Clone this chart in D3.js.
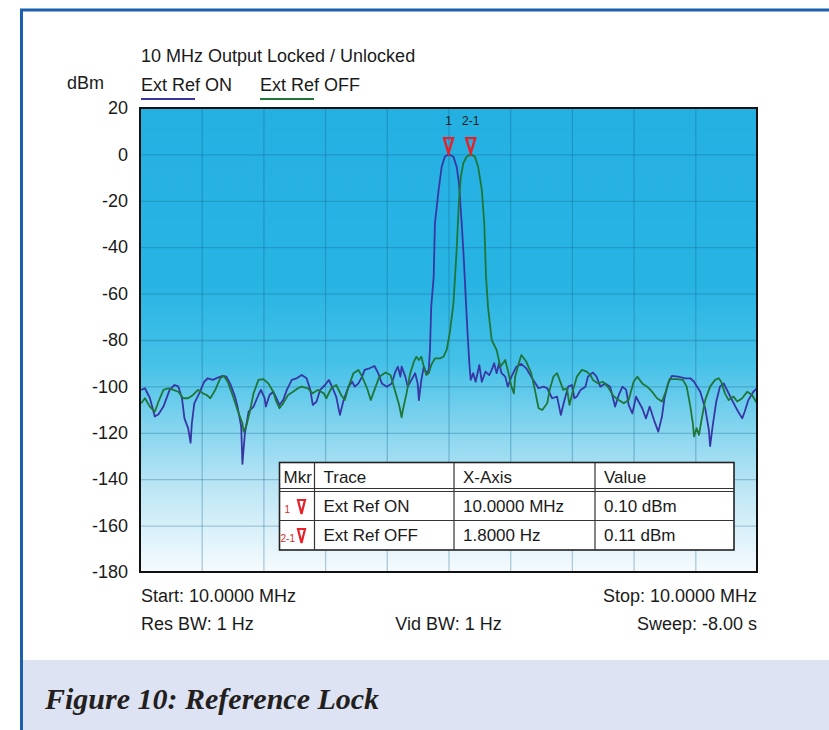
<!DOCTYPE html>
<html>
<head>
<meta charset="utf-8">
<script src="https://cdn.jsdelivr.net/npm/d3@7"></script>
<style>
  body { margin: 0; background: #fff; }
  svg text { font-family: "Liberation Sans", Arial, sans-serif; fill: #1a1a1a; }
</style>
</head>
<body>
<div id="chart"></div>
<script>
// level ticks (dBm)
const yTicks = [20, 0, -20, -40, -60, -80, -100, -120, -140, -160, -180];

// Ext Ref ON trace: offset from 10 MHz (Hz) and level (dBm)
const onHz = [-24.9,-24.6,-24.2,-23.8,-23.5,-23.1,-22.6,-22.2,-21.9,-21.6,
  -21.4,-21.1,-20.9,-20.8,-20.6,-20.2,-19.8,-19.5,-19.1,-18.7,
  -18.3,-18.0,-17.7,-17.3,-17.1,-16.8,-16.7,-16.5,-16.2,-15.8,
  -15.4,-15.2,-14.9,-14.8,-14.5,-14.2,-14.0,-13.7,-13.4,-13.1,
  -12.7,-12.3,-11.9,-11.5,-11.2,-11.0,-10.7,-10.4,-10.0,-9.7,
  -9.5,-9.1,-8.8,-8.5,-8.1,-7.8,-7.6,-7.3,-7.0,-6.8,
  -6.4,-6.0,-5.7,-5.4,-5.0,-4.6,-4.3,-4.1,-3.9,-3.8,
  -3.5,-3.3,-3.0,-2.7,-2.5,-2.4,-2.2,-2.0,-1.8,-1.6,
  -1.5,-1.4,-1.2,-1.1,-0.8,-0.55,-0.3,0,0.4,0.66,
  0.85,1.07,1.26,1.42,1.56,1.69,1.8,2.0,2.2,2.5,
  2.7,3.0,3.3,3.5,3.7,3.9,4.1,4.3,4.6,4.8,
  5.1,5.5,5.9,6.3,6.7,7.3,7.7,8.0,8.4,8.8,
  9.1,9.4,9.7,10.0,10.2,10.4,10.7,11.1,11.3,11.7,
  12.0,12.3,12.7,13.1,13.5,13.8,14.1,14.4,14.6,14.9,
  15.2,15.4,15.7,16.0,16.3,16.7,17.0,17.3,17.5,17.8,
  18.1,18.6,19.2,19.6,19.9,20.4,20.8,21.1,21.2,21.4,
  21.7,22.0,22.3,22.5,22.9,23.4,23.8,24.0,24.3,24.7,
  25.0];
const onDbm = [-101.5,-100.8,-105,-113,-112,-108.7,-101.5,-99.4,-100,-105,
  -113.8,-118,-124.3,-116,-107.3,-103,-98,-96.5,-97.2,-96.2,
  -95.5,-95.8,-98.7,-104.4,-108.7,-117.3,-133.4,-120.2,-110.9,-108.7,
  -103.7,-101.5,-105.1,-108.7,-103.7,-102.3,-104.4,-108,-105.9,-101.5,
  -97.2,-96.5,-95.1,-96.5,-101.5,-108,-106.6,-101.5,-99.4,-97.2,
  -99.4,-104.4,-112.3,-105.9,-100.1,-98,-100.1,-98.7,-95.8,-92.9,
  -92.2,-91.2,-94.3,-98.7,-100.1,-98.7,-93.6,-91.5,-95.8,-91.5,
  -95.8,-100.1,-97.2,-94.3,-98.7,-105.9,-97.2,-91.5,-94.3,-93,
  -84,-65.6,-52.7,-29.7,-15.3,-5.3,-1,0.1,-1,-5.3,
  -12.5,-29.7,-47,-64.2,-78.5,-90,-97.2,-94.3,-98,-90.8,
  -98,-93.6,-95.1,-92.9,-90,-94.3,-90,-94.3,-95.8,-100.1,
  -95.8,-91.5,-90.3,-92.2,-95.8,-100.8,-100.1,-100.8,-105.1,-104.4,
  -112.3,-105.9,-100.1,-99.4,-105.1,-104.4,-101.5,-100.1,-95.8,-94,
  -95.8,-100.1,-98.7,-100.1,-108.7,-103.7,-100.1,-101.5,-108,-111.6,
  -104.4,-106.5,-109.4,-113.8,-108.7,-115.2,-119.5,-113,-105.1,-98.7,
  -95.5,-95.8,-96.5,-96.5,-98,-102.3,-109.4,-118.8,-125.7,-117.3,
  -106.5,-100.1,-98.7,-100.8,-105.1,-110.2,-113.8,-110.9,-105.9,-102.3,
  -100.8];

// Ext Ref OFF trace
const offHz = [-24.9,-24.6,-24.2,-23.8,-23.5,-23.1,-22.7,-22.3,-21.9,-21.5,
  -21.1,-20.7,-20.3,-19.9,-19.6,-19.3,-18.9,-18.5,-18.2,-17.9,
  -17.5,-17.1,-16.7,-16.6,-16.4,-16.1,-15.8,-15.4,-15.0,-14.6,
  -14.2,-14.0,-13.7,-13.4,-13.0,-12.6,-12.2,-11.9,-11.4,-11.0,
  -10.6,-10.1,-9.9,-9.5,-9.1,-8.7,-8.4,-8.1,-7.7,-7.3,
  -7.0,-6.6,-6.3,-6.0,-5.6,-5.1,-4.7,-4.5,-4.2,-4.0,
  -3.8,-3.7,-3.4,-3.1,-2.8,-2.6,-2.4,-2.2,-2.0,-1.8,
  -1.6,-1.4,-1.1,-0.7,-0.4,-0.15,0.1,0.4,0.66,0.85,
  1.0,1.2,1.47,1.8,2.15,2.4,2.7,2.9,3.04,3.2,
  3.5,3.9,4.2,4.6,4.8,5.1,5.3,5.4,5.7,5.9,
  6.3,6.7,7.0,7.3,7.6,8.0,8.2,8.5,8.8,9.0,
  9.3,9.6,9.8,10.1,10.4,10.8,11.2,11.5,11.7,12.1,
  12.5,12.9,13.4,13.8,14.2,14.6,15.0,15.3,15.7,16.1,
  16.5,16.9,17.3,17.6,17.9,18.5,19.0,19.3,19.6,19.8,
  19.9,20.1,20.3,20.5,20.8,21.2,21.6,21.9,22.1,22.4,
  22.7,23.1,23.4,23.8,24.2,24.6,25.0];
const offDbm = [-107.3,-105.1,-108.7,-110.9,-106.5,-101.5,-100.8,-101.5,-102.3,-105.1,
  -105.1,-103.7,-101.5,-103,-103.7,-105.1,-101.5,-96.5,-95.5,-98,
  -103.7,-110.2,-115.9,-119.5,-117.3,-110.9,-103,-97.2,-96.9,-98.7,
  -102.3,-105.9,-109.4,-107.3,-103.7,-102.3,-100.8,-100.1,-100.8,-103,
  -101.5,-103,-105.1,-100.8,-99.4,-103.7,-105.9,-100.1,-94.3,-92.9,
  -95.8,-100.8,-105.9,-101.5,-95.8,-94,-95.1,-98.7,-104.4,-108,
  -113.3,-110.2,-103,-94.3,-89.3,-87.2,-88.6,-87.2,-91.5,-95.1,
  -94.3,-90.8,-87.9,-87.9,-87.2,-84.3,-77,-64.2,-41.2,-19.7,
  -9.6,-3.8,-1,0.11,-1,-5.3,-15.3,-29.7,-52.7,-65.6,
  -80,-84.3,-91.5,-88.6,-92.9,-100.1,-103,-95.8,-90,-86.5,
  -89.3,-94.3,-101.5,-109.4,-110.2,-107.3,-101.5,-95.8,-94.3,-97.2,
  -101.5,-100.8,-108,-101.5,-95.8,-92.9,-93.6,-95.1,-97.2,-98.7,
  -98,-100.1,-104.4,-105.9,-107.3,-105.9,-98,-95.8,-98.7,-100.1,
  -102.3,-105.1,-106.5,-102.3,-96.9,-96.9,-97.2,-100.1,-108.7,-115.9,
  -121.6,-118,-120.9,-114.5,-105.9,-100.1,-97.2,-96.5,-98,-103,
  -105.9,-104.4,-106.5,-105.1,-102.3,-103.7,-107.3];

// markers and table
const markerLabels = ['1', '2-1'];
const markerHz = [0, 1.8];
const markerDbm = [0.10, 0.11];
const tableHeader = ['Mkr', 'Trace', 'X-Axis', 'Value'];
const traceNames = ['Ext Ref ON', 'Ext Ref OFF'];
const xAxisValues = ['10.0000 MHz', '1.8000 Hz'];
const valueTexts = ['0.10 dBm', '0.11 dBm'];

const W = 829, H = 730;
const plot = {left: 140, top: 108, right: 757, bottom: 572};
const blue = '#3836a4', green = '#1f7638', red = '#e8202a';

const svg = d3.select('#chart').append('svg')
  .attr('width', W).attr('height', H);

// page frame + caption band
svg.append('rect').attr('x', 22).attr('y', 660).attr('width', 820).attr('height', 80)
  .attr('fill', '#dde3f2');
svg.append('rect').attr('x', 21.5).attr('y', 10).attr('width', 900).attr('height', 800)
  .attr('fill', 'none').attr('stroke', '#1b5fae').attr('stroke-width', 3);
svg.append('text')
  .attr('x', 45).attr('y', 709)
  .style('font-family', '"Liberation Serif", "Times New Roman", serif')
  .style('font-style', 'italic').style('font-weight', 'bold')
  .style('font-size', '30px').style('fill', '#231f20')
  .text('Figure 10: Reference Lock');

const x = d3.scaleLinear().domain([-25, 25]).range([plot.left, plot.right]);
const y = d3.scaleLinear().domain([-180, 20]).range([plot.bottom, plot.top]);

// plot background gradient
const defs = svg.append('defs');
const grad = defs.append('linearGradient').attr('id', 'bg')
  .attr('x1', 0).attr('y1', 0).attr('x2', 0).attr('y2', 1);
[[0, '#25b0e2'], [0.38, '#28b4e3'], [0.55, '#45c1e8'], [0.68, '#80d3ee'],
 [0.82, '#bde6f5'], [1, '#f6fbfe']].forEach(s => {
  grad.append('stop').attr('offset', s[0]).attr('stop-color', s[1]);
});
defs.append('clipPath').attr('id', 'clip').append('rect')
  .attr('x', plot.left).attr('y', plot.top)
  .attr('width', plot.right - plot.left).attr('height', plot.bottom - plot.top);

svg.append('rect')
  .attr('x', plot.left).attr('y', plot.top)
  .attr('width', plot.right - plot.left).attr('height', plot.bottom - plot.top)
  .attr('fill', 'url(#bg)');

// grid
const gx = svg.append('g')
  .attr('transform', `translate(0,${plot.bottom})`)
  .call(d3.axisBottom(x).tickValues(d3.range(-20, 25, 5))
    .tickSize(-(plot.bottom - plot.top)).tickFormat(''));
const gy = svg.append('g')
  .attr('transform', `translate(${plot.left},0)`)
  .call(d3.axisLeft(y).tickValues(yTicks.slice(1, -1))
    .tickSize(-(plot.right - plot.left)).tickFormat(''));
[gx, gy].forEach(g => {
  g.select('.domain').remove();
  g.selectAll('line').attr('stroke', '#0e5f86').attr('stroke-opacity', 0.3).attr('stroke-width', 1.3);
});

// y axis labels (plain hyphen minus like the analyser)
const ya = svg.append('g')
  .attr('transform', `translate(${plot.left - 12},0)`)
  .call(d3.axisLeft(y).tickValues(yTicks).tickSize(0).tickPadding(0)
    .tickFormat(d => String(d)));
ya.select('.domain').remove();
ya.selectAll('text').style('font-size', '18px')
  .style('font-family', '"Liberation Sans", Arial, sans-serif').attr('fill', '#1a1a1a');

// traces
const line = d3.line().x(d => x(d[0])).y(d => y(d[1]));
const traces = svg.append('g').attr('clip-path', 'url(#clip)');
traces.append('path').datum(d3.zip(onHz, onDbm))
  .attr('d', line).attr('fill', 'none').attr('stroke', blue)
  .attr('stroke-width', 1.8).attr('stroke-linejoin', 'round');
traces.append('path').datum(d3.zip(offHz, offDbm))
  .attr('d', line).attr('fill', 'none').attr('stroke', green)
  .attr('stroke-width', 1.8).attr('stroke-linejoin', 'round');

// plot frame
svg.append('rect')
  .attr('x', plot.left).attr('y', plot.top)
  .attr('width', plot.right - plot.left).attr('height', plot.bottom - plot.top)
  .attr('fill', 'none').attr('stroke', '#111').attr('stroke-width', 2);

// peak markers
const tri = (cx, cy, w, h) => `M${cx},${cy}L${cx - w / 2},${cy - h}L${cx + w / 2},${cy - h}Z`;
markerLabels.forEach((lab, i) => {
  const cx = x(markerHz[i]), cy = y(markerDbm[i]);
  svg.append('path').attr('d', tri(cx, cy - 1, 9, 15))
    .attr('fill', 'none').attr('stroke', red).attr('stroke-width', 2.4)
    .attr('stroke-linejoin', 'miter');
  svg.append('text').attr('x', cx).attr('y', 125)
    .attr('text-anchor', 'middle').style('font-size', '12px').text(lab);
});

// titles / legend
svg.append('text').attr('x', 141).attr('y', 62).style('font-size', '18px')
  .text('10 MHz Output Locked / Unlocked');
svg.append('text').attr('x', 67).attr('y', 89).style('font-size', '18px').text('dBm');
[[141, blue, traceNames[0]], [260, green, traceNames[1]]].forEach(l => {
  svg.append('text').attr('x', l[0]).attr('y', 91).style('font-size', '18px').text(l[2]);
  svg.append('line').attr('x1', l[0]).attr('x2', l[0] + 54)
    .attr('y1', 99).attr('y2', 99).attr('stroke', l[1]).attr('stroke-width', 2);
});

// footer labels
const foot = [
  [141, 602, 'start', 'Start: 10.0000 MHz'],
  [757, 602, 'end', 'Stop: 10.0000 MHz'],
  [141, 630, 'start', 'Res BW: 1 Hz'],
  [448.5, 630, 'middle', 'Vid BW: 1 Hz'],
  [757, 630, 'end', 'Sweep: -8.00 s']
];
foot.forEach(f => {
  svg.append('text').attr('x', f[0]).attr('y', f[1])
    .attr('text-anchor', f[2]).style('font-size', '18px').text(f[3]);
});

// marker table
const colX = [279.5, 314.5, 454, 595, 734];
const rowY = [462.5, 490, 520.5, 550];
const table = svg.append('g');
table.append('rect').attr('x', colX[0]).attr('y', rowY[0])
  .attr('width', colX[4] - colX[0]).attr('height', rowY[3] - rowY[0])
  .attr('fill', '#fff').attr('stroke', '#222').attr('stroke-width', 1.6);
colX.slice(1, 4).forEach(cx => {
  table.append('line').attr('x1', cx).attr('x2', cx).attr('y1', rowY[0]).attr('y2', rowY[3])
    .attr('stroke', '#333').attr('stroke-width', 1.2);
});
[488.5, 491.5, rowY[2]].forEach(ry => {
  table.append('line').attr('x1', colX[0]).attr('x2', colX[4]).attr('y1', ry).attr('y2', ry)
    .attr('stroke', '#333').attr('stroke-width', 1.2);
});
tableHeader.forEach((h, i) => {
  table.append('text').attr('x', colX[i] + (i === 0 ? 4 : 9)).attr('y', 483)
    .style('font-size', '17px').text(h);
});
const rowBase = [512, 541];
traceNames.forEach((t, i) => {
  const by = rowBase[i];
  table.append('text').attr('x', colX[0] + (i === 0 ? 5 : 1)).attr('y', by + 1)
    .style('font-size', '10px').style('fill', '#d42a2a').text(markerLabels[i]);
  table.append('path').attr('d', tri(301.5, by + 2, 7, 14))
    .attr('fill', 'none').attr('stroke', red).attr('stroke-width', 2.2);
  table.append('text').attr('x', colX[1] + 9).attr('y', by).style('font-size', '17px').text(t);
  table.append('text').attr('x', colX[2] + 9).attr('y', by).style('font-size', '17px').text(xAxisValues[i]);
  table.append('text').attr('x', colX[3] + 9).attr('y', by).style('font-size', '17px').text(valueTexts[i]);
});
</script>
</body>
</html>
